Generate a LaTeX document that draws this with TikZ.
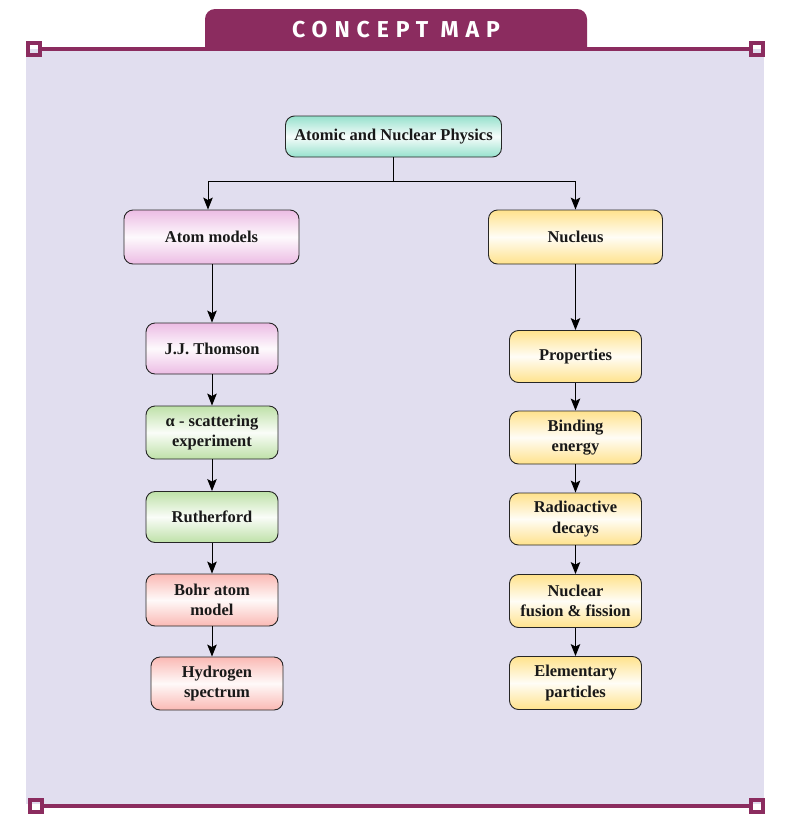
\documentclass[tikz,border=0pt]{standalone}
\usepackage{fontspec}
\setmainfont{Liberation Serif}
\newfontfamily\titlefont[LetterSpace=30]{Fira Sans}
\usetikzlibrary{arrows.meta}
\definecolor{mag}{RGB}{139,44,95}
\definecolor{bgc}{RGB}{225,222,239}
\definecolor{cteal}{RGB}{150,225,205}
\definecolor{cpink}{RGB}{236,188,228}
\definecolor{cgreen}{RGB}{190,225,168}
\definecolor{csalmon}{RGB}{250,185,180}
\definecolor{cyellow}{RGB}{255,226,140}
\tikzset{
  box/.style={draw=black!85, line width=0.9pt, rounded corners=9pt, inner sep=0pt,
    align=center, font=\fontsize{16.5}{20.5}\selectfont\bfseries, text=black!90},
  tealbox/.style={box, top color=cteal, bottom color=cteal, middle color=white!92!cteal},
  pinkbox/.style={box, top color=cpink, bottom color=cpink, middle color=white!92!cpink},
  greenbox/.style={box, top color=cgreen, bottom color=cgreen, middle color=white!92!cgreen},
  salmonbox/.style={box, top color=csalmon, bottom color=csalmon, middle color=white!92!csalmon},
  yellowbox/.style={box, top color=cyellow, bottom color=cyellow, middle color=white!92!cyellow},
  smallbox/.style={minimum width=132pt},
  arr/.style={-{Stealth[length=12pt,width=9.5pt,inset=2.5pt]}, line width=1pt},
  conn/.style={line width=1pt},
  frameline/.style={mag, line width=4pt},
  corner/.style={mag, line width=3.5pt}
}
\begin{document}
\begin{tikzpicture}[x=1pt,y=-1pt]
\fill[white] (0,0) rectangle (793,825);
\useasboundingbox (0,0) rectangle (793,825);
% tab
\fill[mag, rounded corners=10pt] (205,70) rectangle (587,9);
% background
\fill[bgc] (26,49) rectangle (764,804);
\node[text=white, font=\titlefont\bfseries\fontsize{23}{23}\selectfont, inner sep=0pt] (title) at (396,29.5) {CONCEPT MAP};
% frame lines
\draw[frameline] (41.75,49) -- (749.25,49);
\draw[corner] (28,43) rectangle (40,55);
\draw[corner] (751,43) rectangle (763,55);
\draw[frameline] (43.75,806) -- (749.25,806);
\draw[corner] (30,800) rectangle (42,812);
\draw[corner] (751,800) rectangle (763,812);
% nodes
\node[tealbox, minimum width=216pt, minimum height=41pt] (top) at (393.5,136.5) {Atomic and Nuclear Physics};
\node[pinkbox, minimum width=175pt, minimum height=54pt] (atom) at (211.5,237) {Atom models};
\node[yellowbox, minimum width=174pt, minimum height=54pt] (nuc) at (575.5,237) {Nucleus};
\node[pinkbox, smallbox, minimum height=51pt] (jj) at (212,348.5) {J.J. Thomson};
\node[greenbox, smallbox, minimum height=53pt] (alpha) at (212,432.5) {α - scattering\\experiment};
\node[greenbox, smallbox, minimum height=51pt] (ruth) at (212,517) {Rutherford};
\node[salmonbox, smallbox, minimum height=52pt] (bohr) at (212,600) {Bohr atom\\model};
\node[salmonbox, smallbox, minimum height=53pt] (hyd) at (217,683.5) {Hydrogen\\spectrum};
\node[yellowbox, smallbox, minimum height=52pt] (prop) at (575.5,356.5) {Properties};
\node[yellowbox, smallbox, minimum height=53pt] (bind) at (575.5,437.5) {Binding\\energy};
\node[yellowbox, smallbox, minimum height=52pt] (radio) at (575.5,519) {Radioactive\\decays};
\node[yellowbox, smallbox, minimum height=53pt] (nucf) at (575.5,601) {Nuclear\\fusion \& fission};
\node[yellowbox, smallbox, minimum height=53pt] (elem) at (575.5,683) {Elementary\\particles};
% connectors
\coordinate (split) at (393.5,181);
\draw[conn] (top.south) -- (split);
\draw[arr] (split) -| ([xshift=-3.5pt]atom.north);
\draw[arr] (split) -| (nuc.north);
\draw[arr] ([xshift=0.5pt]atom.south) -- (jj.north);
\draw[arr] (jj.south) -- (alpha.north);
\draw[arr] (alpha.south) -- (ruth.north);
\draw[arr] (ruth.south) -- (bohr.north);
\draw[arr] (bohr.south) -- (bohr.south |- hyd.north);
\draw[arr] (nuc.south) -- (prop.north);
\draw[arr] (prop.south) -- (bind.north);
\draw[arr] (bind.south) -- (radio.north);
\draw[arr] (radio.south) -- (nucf.north);
\draw[arr] (nucf.south) -- (elem.north);
\end{tikzpicture}
\end{document}
